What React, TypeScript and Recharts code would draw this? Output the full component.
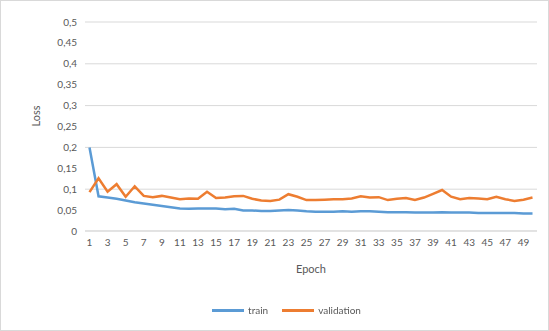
import React from 'react';
import { LineChart, Line, XAxis, YAxis, CartesianGrid } from 'recharts';

const epochs = [
  1, 2, 3, 4, 5, 6, 7, 8, 9, 10, 11, 12, 13, 14, 15, 16, 17, 18, 19, 20, 21, 22, 23, 24, 25,
  26, 27, 28, 29, 30, 31, 32, 33, 34, 35, 36, 37, 38, 39, 40, 41, 42, 43, 44, 45, 46, 47, 48, 49, 50,
];

const train = [
  0.2, 0.083, 0.08, 0.077, 0.073, 0.069, 0.066, 0.063, 0.06, 0.057, 0.054, 0.053, 0.054, 0.054, 0.054,
  0.052, 0.053, 0.049, 0.049, 0.048, 0.048, 0.049, 0.05, 0.049, 0.047,
  0.046, 0.046, 0.046, 0.047, 0.046, 0.047, 0.047, 0.046, 0.045, 0.045, 0.045, 0.044, 0.044, 0.044, 0.045,
  0.044, 0.044, 0.044, 0.043, 0.043, 0.043, 0.043, 0.043, 0.042, 0.042,
];

const validation = [
  0.093, 0.126, 0.094, 0.112, 0.082, 0.107, 0.084, 0.081, 0.084, 0.08, 0.076, 0.078, 0.077, 0.094, 0.079,
  0.08, 0.083, 0.084, 0.077, 0.073, 0.072, 0.075, 0.088, 0.082, 0.074,
  0.074, 0.075, 0.076, 0.076, 0.078, 0.083, 0.08, 0.081, 0.074, 0.077, 0.079, 0.074, 0.08, 0.089, 0.098,
  0.082, 0.076, 0.079, 0.078, 0.076, 0.082, 0.076, 0.072, 0.075, 0.08,
];

const yTicks = [0, 0.05, 0.1, 0.15, 0.2, 0.25, 0.3, 0.35, 0.4, 0.45, 0.5];

const data = epochs.map((e, i) => ({ epoch: e, train: train[i], validation: validation[i] }));

const BLUE = '#5B9BD5';
const ORANGE = '#ED7D31';
const TEXT = '#595959';
const FONT = 'Lato, "Open Sans", sans-serif';

const fmt = (v: number) => String(v).replace('.', ',');

const LegendRow = () => (
  <div
    style={{
      position: 'absolute',
      top: 303,
      left: 0,
      width: 549,
      display: 'flex',
      justifyContent: 'center',
      gap: 14,
      fontFamily: FONT,
      fontSize: 10,
      color: TEXT,
      paddingLeft: 22,
      boxSizing: 'border-box',
    }}
  >
    {[
      { name: 'train', color: BLUE },
      { name: 'validation', color: ORANGE },
    ].map((s) => (
      <div key={s.name} style={{ display: 'flex', alignItems: 'center', gap: 4 }}>
        <div style={{ width: 32, height: 3, background: s.color }} />
        <span>{s.name}</span>
      </div>
    ))}
  </div>
);

const App: React.FC = () => {
  return (
    <div
      style={{
        position: 'fixed',
        top: 0,
        left: 0,
        width: 549,
        height: 331,
        background: '#fff',
        border: '1px solid #D9D9D9',
        boxSizing: 'border-box',
      }}
    >
      <div style={{ position: 'absolute', top: -1, left: -1 }}>
        <LineChart width={549} height={300} data={data} margin={{ top: 22, right: 12, left: 0, bottom: 0 }}>
          <CartesianGrid horizontal vertical={false} stroke="#D9D9D9" />
          <XAxis
            dataKey="epoch"
            interval={1}
            tickLine={false}
            axisLine={{ stroke: '#D9D9D9' }}
            padding={{ left: 4.5, right: 4.5 }}
            tick={{ fill: TEXT, fontSize: 10, fontFamily: FONT }}
            height={69}
            label={{ value: 'Epoch', position: 'insideTop', offset: 34, fill: TEXT, fontSize: 11, fontFamily: FONT }}
          />
          <YAxis
            domain={[0, 0.5]}
            ticks={yTicks}
            tickFormatter={fmt}
            tickLine={false}
            axisLine={false}
            width={85}
            tick={{ fill: TEXT, fontSize: 10, fontFamily: FONT }}
            label={{ value: 'Loss', angle: -90, position: 'insideLeft', offset: 36, fill: TEXT, fontSize: 11, fontFamily: FONT }}
          />
          <Line type="linear" dataKey="train" stroke={BLUE} strokeWidth={2.5} dot={false} isAnimationActive={false} />
          <Line type="linear" dataKey="validation" stroke={ORANGE} strokeWidth={2.5} dot={false} isAnimationActive={false} />
        </LineChart>
      </div>
      <LegendRow />
    </div>
  );
};

export default App;
